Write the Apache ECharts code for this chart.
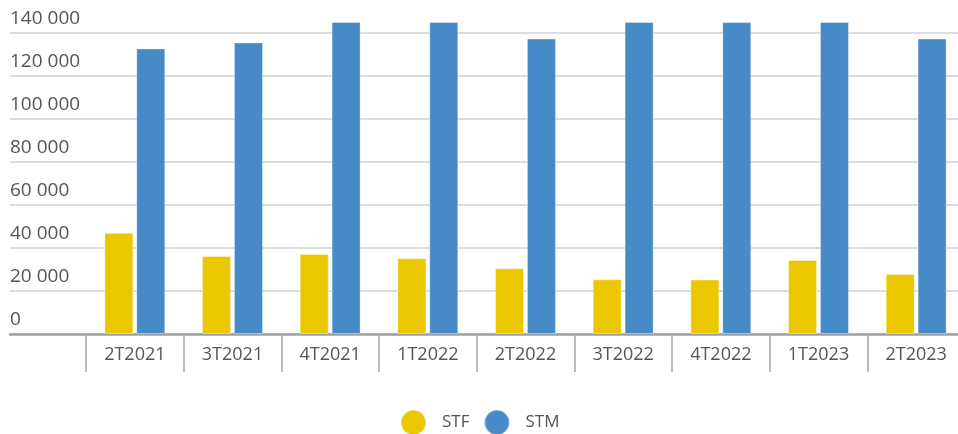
<!DOCTYPE html>
<html>
<head>
<meta charset="utf-8">
<script src="https://cdn.jsdelivr.net/npm/echarts@6/dist/echarts.min.js"></script>
<style>
  html, body { margin: 0; padding: 0; background: #fff; overflow: hidden; width: 958px; height: 434px; }
  /* the plot runs slightly past the right edge, so the canvas is wider than the page */
  #chart { width: 972px; height: 434px; }
</style>
</head>
<body>
<div id="chart"></div>
<script>
// Quarterly values, STF vs STM
const categories = ['2T2021', '3T2021', '4T2021', '1T2022', '2T2022', '3T2022', '4T2022', '1T2023', '2T2023'];
const stfValues = [47000, 36300, 37200, 35200, 30500, 25400, 25300, 34400, 27900];
const stmValues = [132700, 135500, 145000, 145000, 137300, 145000, 145000, 145000, 137300];
const seriesNames = ['STF', 'STM'];

const Y_MAX = 145000;
const FONT = '"Open Sans", "Noto Sans", sans-serif';
const TEXT = '#555';

const chart = echarts.init(document.getElementById('chart'), null, { renderer: 'canvas' });

chart.setOption({
  animation: false,
  textStyle: { fontFamily: FONT },
  legend: {
    data: seriesNames,
    left: 395,
    top: 404,
    icon: 'circle',
    itemWidth: 25,
    itemHeight: 25,
    itemGap: 14,
    textStyle: { color: TEXT, fontSize: 17, fontFamily: FONT, padding: [0, 0, 0, 11] }
  },
  grid: [
    // bars
    { left: 86, width: 879, top: 22, bottom: 100, containLabel: false },
    // full-width grid lines, value labels and baseline
    { left: 10, width: 948, top: 22, bottom: 100, containLabel: false }
  ],
  xAxis: [
    {
      type: 'category',
      gridIndex: 0,
      data: categories,
      axisLine: { show: false },
      axisTick: { show: true, length: 38, lineStyle: { color: '#a6a6a6', width: 1.5 } },
      axisLabel: { color: TEXT, fontSize: 18, fontFamily: FONT, margin: 12 },
      splitLine: { show: false }
    },
    {
      type: 'value',
      gridIndex: 1,
      min: 0,
      max: 1,
      axisLine: { show: true, onZero: false, lineStyle: { color: '#a0a0a0', width: 2.5 } },
      axisTick: { show: false },
      axisLabel: { show: false },
      splitLine: { show: false }
    }
  ],
  yAxis: [
    {
      type: 'value',
      gridIndex: 0,
      min: 0,
      max: Y_MAX,
      show: false,
      splitLine: { show: false }
    },
    {
      type: 'value',
      gridIndex: 1,
      min: 0,
      max: Y_MAX,
      interval: 20000,
      axisLine: { show: false },
      axisTick: { show: false },
      splitLine: { show: true, showMaxLine: false, lineStyle: { color: '#dcdcdc', width: 2 } },
      axisLabel: {
        inside: true,
        margin: 0,
        showMaxLabel: false,
        verticalAlign: 'bottom',
        padding: [0, 0, 5, 0],
        color: TEXT,
        fontSize: 19,
        fontFamily: FONT,
        formatter: v => String(v).replace(/\B(?=(\d{3})+(?!\d))/g, ' ')
      }
    }
  ],
  series: [
    {
      name: seriesNames[0],
      type: 'bar',
      xAxisIndex: 0,
      yAxisIndex: 0,
      data: stfValues,
      barWidth: 29,
      barGap: '10%',
      itemStyle: { color: '#ebc700', borderColor: 'rgba(255,255,255,0.35)', borderWidth: 1 }
    },
    {
      name: seriesNames[1],
      type: 'bar',
      xAxisIndex: 0,
      yAxisIndex: 0,
      data: stmValues,
      barWidth: 29,
      barGap: '10%',
      itemStyle: { color: '#468ac7', borderColor: 'rgba(255,255,255,0.35)', borderWidth: 1 }
    }
  ]
});
</script>
</body>
</html>
